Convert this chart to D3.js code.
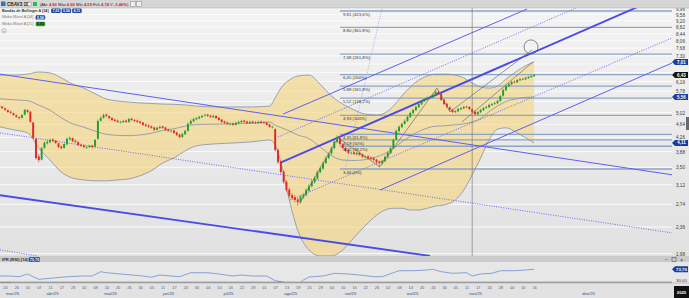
<!DOCTYPE html>
<html><head><meta charset="utf-8">
<script src="https://cdn.jsdelivr.net/npm/d3@7/dist/d3.min.js"></script>
<style>html,body{margin:0;padding:0;background:#fff;overflow:hidden}svg{display:block;font-family:"Liberation Sans",Arial,sans-serif}</style>
</head><body><svg id="c" width="689" height="298"></svg>
<script>
// ---------------- DATA ----------------
const ticker = "CBAV3 1D";
const headerParts = [["(Abr ",0],["4,90",1],[" Máx ",0],["4,90",1],[" Mín ",0],["4,59",1],[" Fch ",0],["4,74",1],[" V ",0],["-3,46%",1],[")",0]];
const legendNames = ["Bandas de Bollinger A [34]", "Média Móvel A [34]", "Média Móvel A [21]"];
const legendBollValues = ["7,01", "5,56", "4,11"];
const legendMa34Value = "5,56";
const legendMa21Value = "5,93";

const opens = [
5.25,5.22,5.16,5.10,5.05,5.00,4.93,4.87,4.85,4.95,
5.10,5.05,4.70,4.22,3.76,3.68,3.98,4.10,4.13,4.20,
4.17,4.10,4.01,3.98,4.07,4.21,4.24,4.17,4.13,4.06,
4.04,3.98,4.00,4.04,4.01,4.22,4.76,4.85,4.95,4.90,
4.84,4.79,4.76,4.70,4.71,4.76,4.72,4.82,4.78,4.76,
4.73,4.70,4.64,4.61,4.58,4.55,4.48,4.53,4.58,4.55,
4.49,4.44,4.46,4.40,4.34,4.27,4.35,4.45,4.66,4.74,
4.80,4.83,4.87,4.92,4.95,4.92,4.87,4.91,4.85,4.79,
4.73,4.70,4.65,4.67,4.63,4.68,4.71,4.76,4.73,4.68,
4.73,4.70,4.68,4.73,4.70,4.70,4.64,4.56,4.50,3.92,
3.62,3.40,3.18,3.02,2.91,2.87,2.83,2.78,2.87,2.91,
3.00,3.09,3.17,3.25,3.39,3.47,3.60,3.72,3.83,3.97,
4.13,4.24,4.07,3.97,3.91,3.84,3.86,3.81,3.85,3.81,
3.74,3.76,3.73,3.71,3.68,3.63,3.59,3.64,3.75,3.84,
3.97,4.20,4.44,4.56,4.66,4.75,4.87,5.00,5.10,5.20,
5.30,5.41,5.50,5.52,5.55,5.63,5.76,5.67,5.46,5.32,
5.20,5.12,5.03,5.06,5.13,5.16,5.22,5.21,5.13,5.05,
4.96,5.03,5.10,5.18,5.20,5.27,5.32,5.34,5.42,5.61,
5.82,5.97,6.05,6.15,6.13,6.21,6.27,6.25,6.30,6.34,
6.38];
const highs = [
5.28,5.24,5.19,5.12,5.08,5.02,4.96,4.90,4.97,5.14,
5.13,5.07,4.72,4.24,3.82,4.00,4.15,4.20,4.23,4.24,
4.19,4.12,4.04,4.10,4.26,4.29,4.26,4.20,4.15,4.09,
4.07,4.04,4.06,4.06,4.22,4.80,4.90,4.99,4.99,4.93,
4.87,4.82,4.79,4.76,4.79,4.79,4.85,4.85,4.81,4.79,
4.76,4.72,4.67,4.64,4.61,4.57,4.57,4.61,4.61,4.57,
4.52,4.49,4.48,4.42,4.36,4.39,4.48,4.70,4.80,4.86,
4.88,4.92,4.95,4.99,4.98,4.95,4.95,4.93,4.87,4.81,
4.76,4.73,4.70,4.70,4.73,4.76,4.79,4.79,4.76,4.76,
4.76,4.74,4.76,4.76,4.74,4.72,4.66,4.61,4.52,3.96,
3.66,3.43,3.21,3.06,2.95,2.91,2.86,2.91,2.95,3.05,
3.13,3.22,3.30,3.43,3.52,3.64,3.76,3.86,4.01,4.18,
4.32,4.27,4.10,4.00,3.94,3.89,3.89,3.88,3.88,3.83,
3.79,3.79,3.76,3.74,3.70,3.66,3.68,3.78,3.89,4.01,
4.23,4.49,4.62,4.70,4.80,4.92,5.05,5.15,5.25,5.35,
5.46,5.53,5.58,5.61,5.69,5.85,5.80,5.70,5.49,5.35,
5.23,5.15,5.11,5.18,5.21,5.25,5.26,5.24,5.16,5.08,
5.08,5.15,5.21,5.25,5.32,5.35,5.39,5.46,5.64,5.88,
6.03,6.11,6.19,6.20,6.27,6.31,6.32,6.36,6.40,6.44,
6.48];
const lows = [
5.18,5.14,5.08,5.01,4.98,4.91,4.85,4.80,4.83,4.93,
5.00,4.70,4.22,3.68,3.62,3.66,3.95,4.07,4.10,4.13,
4.08,3.97,3.94,3.96,4.05,4.18,4.13,4.10,4.02,4.00,
3.97,3.95,3.97,3.96,3.99,4.20,4.72,4.82,4.87,4.81,
4.75,4.72,4.69,4.67,4.69,4.69,4.70,4.75,4.72,4.69,
4.66,4.60,4.57,4.54,4.51,4.45,4.46,4.50,4.51,4.45,
4.42,4.41,4.36,4.30,4.24,4.25,4.33,4.43,4.64,4.71,
4.77,4.80,4.84,4.89,4.88,4.85,4.84,4.81,4.75,4.69,
4.66,4.63,4.62,4.60,4.61,4.65,4.68,4.69,4.66,4.65,
4.66,4.66,4.65,4.66,4.65,4.60,4.54,4.52,3.88,3.58,
3.35,3.14,2.97,2.86,2.82,2.78,2.72,2.75,2.84,2.89,
2.97,3.06,3.14,3.22,3.36,3.44,3.57,3.69,3.80,3.94,
4.10,4.05,3.94,3.87,3.82,3.81,3.79,3.78,3.77,3.72,
3.71,3.69,3.67,3.64,3.58,3.50,3.56,3.62,3.72,3.82,
3.95,4.18,4.41,4.53,4.63,4.72,4.84,4.97,5.07,5.17,
5.27,5.38,5.46,5.49,5.52,5.60,5.64,5.42,5.27,5.17,
5.07,5.00,5.00,5.03,5.10,5.13,5.17,5.10,5.00,4.92,
4.94,5.00,5.07,5.14,5.17,5.24,5.28,5.31,5.39,5.58,
5.78,5.93,6.01,6.09,6.10,6.18,6.21,6.22,6.27,6.31,
6.35];
const closes = [
5.21,5.17,5.11,5.04,5.01,4.94,4.88,4.84,4.94,5.11,
5.04,4.72,4.25,3.72,3.67,3.97,4.11,4.14,4.19,4.16,
4.11,4.00,3.97,4.08,4.22,4.25,4.16,4.14,4.05,4.03,
4.00,4.00,4.03,4.00,4.19,4.75,4.84,4.94,4.91,4.84,
4.78,4.75,4.72,4.72,4.75,4.72,4.81,4.78,4.75,4.72,
4.69,4.63,4.60,4.57,4.54,4.48,4.54,4.57,4.54,4.48,
4.45,4.45,4.39,4.33,4.27,4.36,4.45,4.66,4.75,4.81,
4.84,4.88,4.91,4.94,4.91,4.88,4.91,4.84,4.78,4.72,
4.69,4.66,4.66,4.63,4.69,4.72,4.75,4.72,4.69,4.72,
4.69,4.69,4.72,4.69,4.69,4.63,4.57,4.57,3.92,3.62,
3.39,3.18,3.01,2.90,2.86,2.82,2.78,2.88,2.91,3.01,
3.09,3.18,3.26,3.39,3.48,3.60,3.72,3.82,3.97,4.14,
4.25,4.08,3.97,3.90,3.85,3.85,3.82,3.85,3.80,3.75,
3.75,3.72,3.70,3.67,3.62,3.60,3.65,3.75,3.85,3.97,
4.19,4.45,4.57,4.66,4.75,4.88,5.01,5.11,5.21,5.31,
5.42,5.49,5.53,5.56,5.64,5.75,5.68,5.45,5.31,5.21,
5.11,5.04,5.07,5.14,5.17,5.21,5.21,5.14,5.04,4.97,
5.04,5.11,5.17,5.21,5.28,5.31,5.35,5.42,5.60,5.83,
5.98,6.06,6.14,6.14,6.22,6.26,6.26,6.31,6.35,6.39,
6.43];

// Bollinger bands (34) read at sample sessions
const bandIdx = [0,5,10,14,18,22,26,30,34,38,42,46,50,54,58,62,66,70,76,84,90,96,98,100,103,106,110,114,118,122,126,130,134,137,140,143,146,149,152,155,158,162,165,168,171,174,177,180,184,187,190];
const bandUpper = [6.43,6.43,6.47,6.56,6.52,6.31,6.06,5.90,5.68,5.49,5.42,5.38,5.35,5.33,5.31,5.30,5.28,5.24,5.21,5.21,5.21,5.24,5.53,5.90,6.22,6.39,6.43,6.05,5.60,5.31,5.11,4.97,4.94,5.01,5.24,5.60,5.94,6.22,6.39,6.47,6.47,6.43,6.31,6.10,5.94,5.90,5.98,6.26,6.61,6.84,7.01];
const bandMid   = [5.50,5.46,5.43,5.27,5.10,4.85,4.66,4.56,4.44,4.35,4.32,4.31,4.33,4.38,4.46,4.51,4.59,4.64,4.65,4.66,4.68,4.72,4.62,4.55,4.45,4.33,4.23,4.00,3.78,3.67,3.66,3.68,3.75,3.83,3.96,4.14,4.29,4.43,4.53,4.59,4.60,4.63,4.66,4.72,4.83,5.05,5.24,5.40,5.50,5.55,5.56];
const bandLower = [4.57,4.48,4.39,3.97,3.67,3.39,3.26,3.22,3.20,3.20,3.22,3.24,3.31,3.42,3.60,3.72,3.90,4.03,4.08,4.11,4.14,4.19,4.05,3.62,2.82,2.31,2.03,1.95,1.95,2.03,2.20,2.38,2.55,2.64,2.67,2.67,2.64,2.64,2.67,2.71,2.73,2.82,3.01,3.33,3.72,4.19,4.50,4.54,4.39,4.25,4.11];

// IFR (RSI 14) read at sample sessions
const rsiIdx  = [0,4,7,10,12,14,18,24,30,33,36,38,43,47,51,54,57,61,64,68,74,78,83,86,90,95,98,102,107,108,110,115,119,124,128,133,136,140,142,147,152,154,157,161,166,168,171,175,178,183,187,190];
const rsiVals = [49.5,49.5,47.0,56.7,47.0,37.6,41.2,47.0,49.5,49.5,65.0,61.4,56.7,53.1,49.5,44.9,53.1,49.5,47.0,61.4,61.4,56.7,49.5,53.1,49.5,49.5,32.6,25.4,25.4,35.1,45.9,49.5,59.3,56.7,53.1,47.0,47.0,61.4,68.6,68.6,71.2,73.7,65.0,59.3,61.4,49.5,56.7,59.3,68.6,68.6,71.2,73.7];
const rsiMinLabel = 24.31;
const rsiLevel = 30;

// Fibonacci levels
const fibValues = [3.46,4.02,4.19,4.35,4.93,5.52,5.98,6.45,7.38,8.80,9.81];
const fibLabels = ["3,46 (0%)","4,02 (38,2%)","4,19 (50%)","4,35 (61,8%)","4,93 (100%)","5,52 (138,2%)","5,98 (161,8%)","6,45 (200%)","7,38 (261,8%)","8,80 (361,8%)","9,81 (423,6%)"];
const fibStartIdx = 121;

// Trend lines: [session index, price] endpoints
const thinLines   = [[[0.2,6.47],[239,3.33]], [[100.8,4.97],[187.5,9.94]], [[135.2,3.01],[239,6.96]]];
const thickLines  = [[[0.2,2.91],[153,1.95]], [[99.7,3.60],[228.4,10.21]]];
const dottedLines = [[[0.2,4.39],[239,2.27]], [[0.2,2.03],[13.4,1.95]], [[99,4.27],[207.4,10.21]], [[103.3,2.82],[239,8.21]]];
const steepDotted = [[[135.9,9.94],[122.8,3.44]]];
const grayLines   = [[[106.8,2.77],[120.3,4.25],[135.2,3.51],[155.5,5.90],[160.1,5.04],[189.3,7.59]], [[164.4,4.72],[189.6,7.01]]];
const markerCircle = [188.9, 7.74];
const crosshairIdx = 168;

// Axes
const priceTicks = [1.98,2.36,2.74,3.12,3.50,3.88,4.26,4.64,5.02,5.40,5.78,6.16,6.54,6.92,7.30,7.68,8.06,8.44,8.82,9.20,9.58,9.96];
const axisBadges = [7.01, 5.56, 4.11];
const dayLabels = ["20","26","01","07","11","17","23","02","08","14","20","26","30","05","11","17","24","30","04","10","16","22","28","01","07","13","19","25","29","04","10","16","22","26","02","08","14","20","24","30","05","11","17","24","28","04","10","16"];
const dayFirstIdx = 2, dayStep = 4;
const monthLabels = ["mar/25","abr/25","mai/25","jun/25","jul/25","ago/25","set/25","out/25","nov/25","dez/25"];
const monthPos = [4.5,18.7,39.3,59.9,81.2,103.3,124.6,146.6,169,209.2];
const yearLabel = "2025";

// ---------------- DRAW ----------------
const svg = d3.select("#c");
const fmt = v => d3.format(".2f")(v).replace(".", ",");
const PR = 672;            // plot right edge
const x = d3.scaleLinear().domain([0, 239]).range([-0.6, PR]);
const y = d3.scaleLog().domain([1.98, 9.81]).range([253.6, 11]);
const ry = d3.scaleLinear().domain([rsiMinLabel, 100]).range([283, 262]);
const lastClose = closes[closes.length-1];

const defs = svg.append("defs");
const gr = defs.append("linearGradient").attr("id","bg").attr("x1",0).attr("x2",0).attr("y1",0).attr("y2",1);
gr.append("stop").attr("offset","0%").attr("stop-color","#f3f3f3");
gr.append("stop").attr("offset","100%").attr("stop-color","#e1e1e1");
defs.append("clipPath").attr("id","cm").append("rect").attr("x",0).attr("y",8).attr("width",PR).attr("height",248);
defs.append("clipPath").attr("id","cr").append("rect").attr("x",0).attr("y",262).attr("width",PR).attr("height",20);

svg.append("rect").attr("width",689).attr("height",298).attr("fill","#e6e6e6");
svg.append("rect").attr("x",0).attr("y",8).attr("width",689).attr("height",248).attr("fill","url(#bg)");

const main = svg.append("g").attr("clip-path","url(#cm)");

// gridlines
main.selectAll(".grid").data(priceTicks).join("line")
  .attr("x1",0).attr("x2",PR).attr("y1",d=>y(d)).attr("y2",d=>y(d))
  .attr("stroke","#fbfbfb").attr("stroke-width",1);

// bollinger fill
const band = bandIdx.map((d,k)=>({i:d,u:bandUpper[k],m:bandMid[k],l:bandLower[k]}));
main.append("path").datum(band)
  .attr("d", d3.area().x(d=>x(d.i)).y0(d=>y(d.l)).y1(d=>y(d.u)).curve(d3.curveMonotoneX))
  .attr("fill","#f6d57e").attr("fill-opacity",0.62);

// fib lines
main.selectAll(".fib").data(fibValues).join("line")
  .attr("x1",x(fibStartIdx)).attr("x2",PR).attr("y1",d=>y(d)).attr("y2",d=>y(d))
  .attr("stroke","#8ea6c6").attr("stroke-width",1.3);

// band lines
const lineB = key => d3.line().x(d=>x(d.i)).y(d=>y(d[key])).curve(d3.curveMonotoneX);
["u","l","m"].forEach(k=>{
  main.append("path").datum(band).attr("d",lineB(k)).attr("fill","none")
    .attr("stroke","#8290a8").attr("stroke-width",0.8);
});

const seg = d3.line().x(d=>x(d[0])).y(d=>y(d[1]));
function drawLines(arr, color, w, dash){
  main.selectAll(null).data(arr).join("path").attr("d",seg).attr("fill","none")
    .attr("stroke",color).attr("stroke-width",w).attr("stroke-dasharray",dash||null);
}
drawLines(dottedLines, "#6e6ef2", 1, "1,1.4");
drawLines(steepDotted, "#a0a0e8", 0.8, "1,1.4");
drawLines(thinLines, "#5f5ff0", 1);
drawLines(thickLines, "#4b4be8", 1.9);

// candles
const cg = main.append("g");
closes.forEach((c,i)=>{
  const o = opens[i], up = c >= o, col = up ? "#1f9e2c" : "#e3261e";
  cg.append("line").attr("x1",x(i)).attr("x2",x(i)).attr("y1",y(highs[i])).attr("y2",y(lows[i]))
    .attr("stroke",col).attr("stroke-width",0.6);
  const y1 = y(Math.max(o,c)), y2 = y(Math.min(o,c));
  cg.append("rect").attr("x",x(i)-0.95).attr("width",1.9).attr("y",y1).attr("height",Math.max(0.7,y2-y1)).attr("fill",col);
});

drawLines(grayLines, "#6d6d6d", 0.7);
main.append("circle").attr("cx",x(markerCircle[0])).attr("cy",y(markerCircle[1])).attr("r",7)
  .attr("fill","none").attr("stroke","#6a6a6a").attr("stroke-width",0.8);

// fib labels
main.selectAll(".fl").data(fibValues).join("text")
  .attr("x",x(fibStartIdx)+3).attr("y",d=>y(d)+4.6)
  .attr("font-size",4.3).attr("fill","#333").text((d,k)=>fibLabels[k]);

// crosshair
svg.append("line").attr("x1",x(crosshairIdx)).attr("x2",x(crosshairIdx)).attr("y1",8).attr("y2",283)
  .attr("stroke","#6f6f6f").attr("stroke-width",0.6);

// right price axis (labels hidden where a value badge covers them)
const badgeYs = axisBadges.concat([lastClose]).map(v=>y(v));
const visibleTicks = priceTicks.filter(t=>badgeYs.every(b=>Math.abs(y(t)-b) >= 5));
const ax = svg.append("g").attr("transform",`translate(${PR},0)`)
  .call(d3.axisRight(y).tickValues(visibleTicks).tickSize(0).tickPadding(4).tickFormat(fmt));
ax.select(".domain").remove();
ax.selectAll("text").attr("font-size",4.6).attr("fill","#3a3a3a").attr("font-family","Liberation Sans, Arial");

function badge(v, color){
  const yc = y(v);
  const gb = svg.append("g");
  gb.append("path").attr("d",`M${PR},${yc} L${PR+3},${yc-3} L688,${yc-3} L688,${yc+3} L${PR+3},${yc+3} Z`).attr("fill",color);
  gb.append("text").attr("x",PR+9.5).attr("y",yc+1.6).attr("text-anchor","middle").attr("font-size",4.5)
    .attr("font-weight","bold").attr("fill","#fff").text(fmt(v));
}
axisBadges.forEach(v=>badge(v,"#1b3f9e"));
badge(lastClose, "#111");
svg.append("rect").attr("x",686).attr("y",117).attr("width",3).attr("height",13).attr("fill","#6a6a6a");

// ---------------- RSI pane ----------------
svg.append("rect").attr("x",0).attr("y",256).attr("width",689).attr("height",6).attr("fill","#cbcbcb");
svg.append("rect").attr("x",0).attr("y",262).attr("width",689).attr("height",21).attr("fill","#e7e7e7");
svg.append("text").attr("x",2).attr("y",260.6).attr("font-size",4.2).attr("font-weight","bold").attr("fill","#333").text("IFR (RSI) [14]");
const lastRsi = rsiVals[rsiVals.length-1];
svg.append("rect").attr("x",29).attr("y",257.2).attr("width",11).attr("height",4.6).attr("rx",1).attr("fill","#1b3f9e");
svg.append("text").attr("x",34.5).attr("y",260.9).attr("text-anchor","middle").attr("font-size",3.9).attr("font-weight","bold").attr("fill","#fff").text(fmt(lastRsi));
svg.append("g").attr("clip-path","url(#cr)").append("path")
  .datum(rsiIdx.map((d,k)=>[d,rsiVals[k]]))
  .attr("d", d3.line().x(d=>x(d[0])).y(d=>ry(d[1])))
  .attr("fill","none").attr("stroke","#6c8fd0").attr("stroke-width",0.8);
svg.append("line").attr("x1",0).attr("x2",PR).attr("y1",ry(rsiLevel)+0.8).attr("y2",ry(rsiLevel)+0.8).attr("stroke","#555").attr("stroke-width",0.7);
svg.append("text").attr("x",1).attr("y",ry(rsiLevel)+3.4).attr("font-size",3.8).attr("fill","#444").text(fmt(rsiMinLabel));
svg.append("text").attr("x",PR+4).attr("y",ry(rsiLevel)+0.4).attr("font-size",4.4).attr("fill","#3a3a3a").text(fmt(rsiLevel));
{
  const yc = ry(lastRsi);
  svg.append("path").attr("d",`M${PR},${yc} L${PR+3},${yc-3} L688,${yc-3} L688,${yc+3} L${PR+3},${yc+3} Z`).attr("fill","#1b3f9e");
  svg.append("text").attr("x",PR+9.5).attr("y",yc+1.6).attr("text-anchor","middle").attr("font-size",4.4).attr("font-weight","bold").attr("fill","#fff").text(fmt(lastRsi));
}
// window icons
[256,0].forEach(yy=>{
  const gi = svg.append("g").attr("transform",`translate(0,${yy})`);
  gi.append("text").attr("x",665).attr("y",5).attr("font-size",5).attr("fill","#444").text("–");
  gi.append("rect").attr("x",672).attr("y",1.5).attr("width",4).attr("height",4).attr("fill","none").attr("stroke","#555").attr("stroke-width",0.6);
  gi.append("text").attr("x",680).attr("y",5.6).attr("font-size",5.5).attr("fill","#444").text("×");
});

// ---------------- X axis ----------------
svg.append("rect").attr("x",0).attr("y",283).attr("width",689).attr("height",15).attr("fill","#e2e2e2");
svg.append("line").attr("x1",0).attr("x2",689).attr("y1",283).attr("y2",283).attr("stroke","#9a9a9a").attr("stroke-width",0.5);
const dayIdx = dayLabels.map((d,k)=>dayFirstIdx+k*dayStep);
const xa = svg.append("g").attr("transform","translate(0,286)")
  .call(d3.axisBottom(x).tickValues(dayIdx).tickSize(0).tickPadding(0).tickFormat((d,k)=>dayLabels[k]));
xa.select(".domain").remove();
xa.selectAll("text").attr("font-size",3.9).attr("fill","#4e5d7c").attr("font-family","Liberation Sans, Arial");
const ma = svg.append("g").attr("transform","translate(0,292)")
  .call(d3.axisBottom(x).tickValues(monthPos).tickSize(0).tickPadding(0).tickFormat((d,k)=>monthLabels[k]));
ma.select(".domain").remove();
ma.selectAll("text").attr("font-size",4.2).attr("fill","#2a4c8c").attr("font-family","Liberation Sans, Arial");
svg.append("rect").attr("x",674).attr("y",286).attr("width",15).attr("height",12).attr("fill","#111");
svg.append("text").attr("x",681.5).attr("y",293.5).attr("text-anchor","middle").attr("font-size",4.2).attr("font-weight","bold").attr("fill","#fff").text(yearLabel);

// ---------------- Header & legend ----------------
svg.append("rect").attr("x",0).attr("y",0).attr("width",689).attr("height",8).attr("fill","#d6d6d6");
svg.append("line").attr("x1",0).attr("x2",689).attr("y1",8).attr("y2",8).attr("stroke","#a8a8a8").attr("stroke-width",0.5);
svg.append("rect").attr("x",1).attr("y",1.5).attr("width",4.5).attr("height",4.5).attr("fill","#3b6fc4");
svg.append("text").attr("x",7).attr("y",5.8).attr("font-size",4.6).attr("font-weight","bold").attr("fill","#222").text(ticker);
svg.append("circle").attr("cx",29.5).attr("cy",4).attr("r",2).attr("fill","#fff").attr("stroke","#777").attr("stroke-width",0.5);
svg.append("rect").attr("x",33).attr("y",2).attr("width",4).attr("height",4).attr("fill","#22c24a");
const ht = svg.append("text").attr("x",40).attr("y",5.7).attr("font-size",4.1).attr("fill","#222");
headerParts.forEach(([t,red])=>ht.append("tspan").attr("fill",red?"#d81e1e":"#222").attr("font-weight",red?"bold":"normal").text(t));
const hEnd = 40 + ht.node().getComputedTextLength() + 2;
[hEnd, hEnd+6].forEach(xx=>svg.append("rect").attr("x",xx).attr("y",1.5).attr("width",5).attr("height",5).attr("fill","#eee").attr("stroke","#888").attr("stroke-width",0.5));

// legend rows: badges placed right after each measured label
function legendRow(name, yb, bold, color, values, badgeFill, badgeText){
  const t = svg.append("text").attr("x",2).attr("y",yb).attr("font-size",3.7)
    .attr("font-weight",bold?"bold":"normal").attr("fill",color).text(name);
  let bx = 2 + t.node().getComputedTextLength() + 2.5;
  values.forEach(v=>{
    svg.append("rect").attr("x",bx).attr("y",yb-3.2).attr("width",9.5).attr("height",4.4).attr("rx",1.2).attr("fill",badgeFill);
    svg.append("text").attr("x",bx+4.75).attr("y",yb+0.3).attr("text-anchor","middle").attr("font-size",3.6)
      .attr("font-weight","bold").attr("fill",badgeText).text(v);
    bx += 10.5;
  });
}
legendRow(legendNames[0], 11.8, true, "#333", legendBollValues, "#1b3f9e", "#fff");
legendRow(legendNames[1], 18.4, false, "#7a7a7a", [legendMa34Value], "#1b3f9e", "#fff");
legendRow(legendNames[2], 25.0, false, "#7a7a7a", [legendMa21Value], "#2e9e2e", "#111");
svg.append("circle").attr("cx",4).attr("cy",30.8).attr("r",2.2).attr("fill","#f4f4f4").attr("stroke","#888").attr("stroke-width",0.5);
svg.append("text").attr("x",4).attr("y",32.2).attr("text-anchor","middle").attr("font-size",4).attr("fill","#555").text("+");
</script>
</body></html>
